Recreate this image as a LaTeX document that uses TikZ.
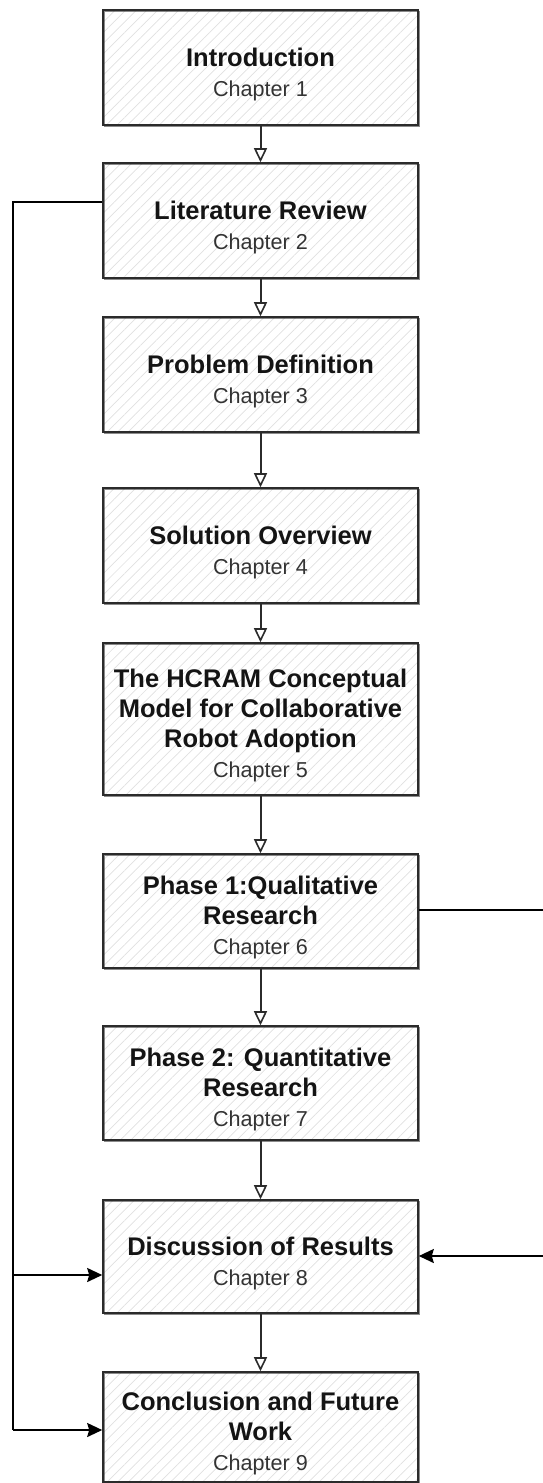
\documentclass[tikz,border=0pt]{standalone}
\usepackage{fontspec}
\setmainfont{Liberation Sans}
\usetikzlibrary{arrows.meta,patterns.meta,calc}

\definecolor{ink}{HTML}{2B2B2B}
\definecolor{hatch}{HTML}{E0E0E0}
\definecolor{subtext}{HTML}{333333}

% bold title line; the strut gives the first line some headroom
\newcommand{\ttl}[1]{{\bfseries #1}}
\newcommand{\firstttl}[1]{\rule{0pt}{32pt}{\bfseries #1}}
\newcommand{\chp}[1]{{\fontsize{21.6}{30}\selectfont\color{subtext}#1}}

\tikzset{
  chapterbox/.style={
    draw=ink, line width=1.6pt,
    pattern={Lines[angle=45,distance=7.5pt,line width=0.7pt]},
    pattern color=hatch,
    minimum width=315pt, inner sep=0pt, align=center,
    font=\fontsize{25.5}{30}\selectfont,
    text=black!92,
    postaction={draw=ink, line width=0.6pt, opacity=0.55,
      transform canvas={shift={(1pt,-1pt)}}}
  },
  flow/.style={draw=ink, line width=2pt,
    -{Triangle[open, length=14pt, width=13pt, line width=1.6pt]}},
  link/.style={draw=black, line width=1.9pt,
    -{Stealth[length=15pt, width=14pt, inset=2pt]}},
  wire/.style={draw=black, line width=1.9pt}
}

\begin{document}
\begin{tikzpicture}[x=1pt, y=-1pt]
  \useasboundingbox (0,0) rectangle (542,1483);

  % chapter boxes
  \node[chapterbox, minimum height=115pt] (intro) at (260.5,67.5)
    {\firstttl{Introduction}\\\chp{Chapter 1}};
  \node[chapterbox, minimum height=115pt] (lit) at (260.5,220.5)
    {\firstttl{Literature Review}\\\chp{Chapter 2}};
  \node[chapterbox, minimum height=115pt] (prob) at (260.5,374.5)
    {\firstttl{Problem Definition}\\\chp{Chapter 3}};
  \node[chapterbox, minimum height=115pt] (sol) at (260.5,545.5)
    {\firstttl{Solution Overview}\\\chp{Chapter 4}};
  \node[chapterbox, minimum height=152pt] (hcram) at (260.5,719)
    {\firstttl{The HCRAM Conceptual}\\\ttl{Model for Collaborative}\\\ttl{Robot Adoption}\\\chp{Chapter 5}};
  \node[chapterbox, minimum height=114pt] (ph1) at (260.5,911)
    {\firstttl{Phase 1:Qualitative}\\\ttl{Research}\\\chp{Chapter 6}};
  \node[chapterbox, minimum height=114pt] (ph2) at (260.5,1083)
    {\firstttl{Phase 2: Quantitative}\\\ttl{Research}\\\chp{Chapter 7}};
  \node[chapterbox, minimum height=113pt] (disc) at (260.5,1256.5)
    {\firstttl{Discussion of Results}\\\chp{Chapter 8}};
  \node[chapterbox, minimum height=110pt] (conc) at (260.5,1427)
    {\firstttl{Conclusion and Future}\\\ttl{Work}\\\chp{Chapter 9}};

  % main sequence
  \draw[flow] (intro) -- (lit);
  \draw[flow] (lit) -- (prob);
  \draw[flow] (prob) -- (sol);
  \draw[flow] (sol) -- (hcram);
  \draw[flow] (hcram) -- (ph1);
  \draw[flow] (ph1) -- (ph2);
  \draw[flow] (ph2) -- (disc);
  \draw[flow] (disc) -- (conc);

  % left feedback line from the literature review
  \coordinate (lTop) at (13,202);
  \coordinate (lMid) at (13,1275);
  \coordinate (lBot) at (13,1430);
  \draw[wire] (lit.west |- lTop) -- (lTop) -- (lBot);
  \draw[link] (lMid) -- (disc.west |- lMid);
  \draw[link] (lBot) -- (conc.west |- lBot);

  % right line from phase 1 into the discussion
  \coordinate (rTop) at (547,910);
  \coordinate (rBot) at (547,1256);
  \draw[link] (ph1.east |- rTop) -- (rTop) -- (rBot) -- (disc.east |- rBot);
\end{tikzpicture}
\end{document}
